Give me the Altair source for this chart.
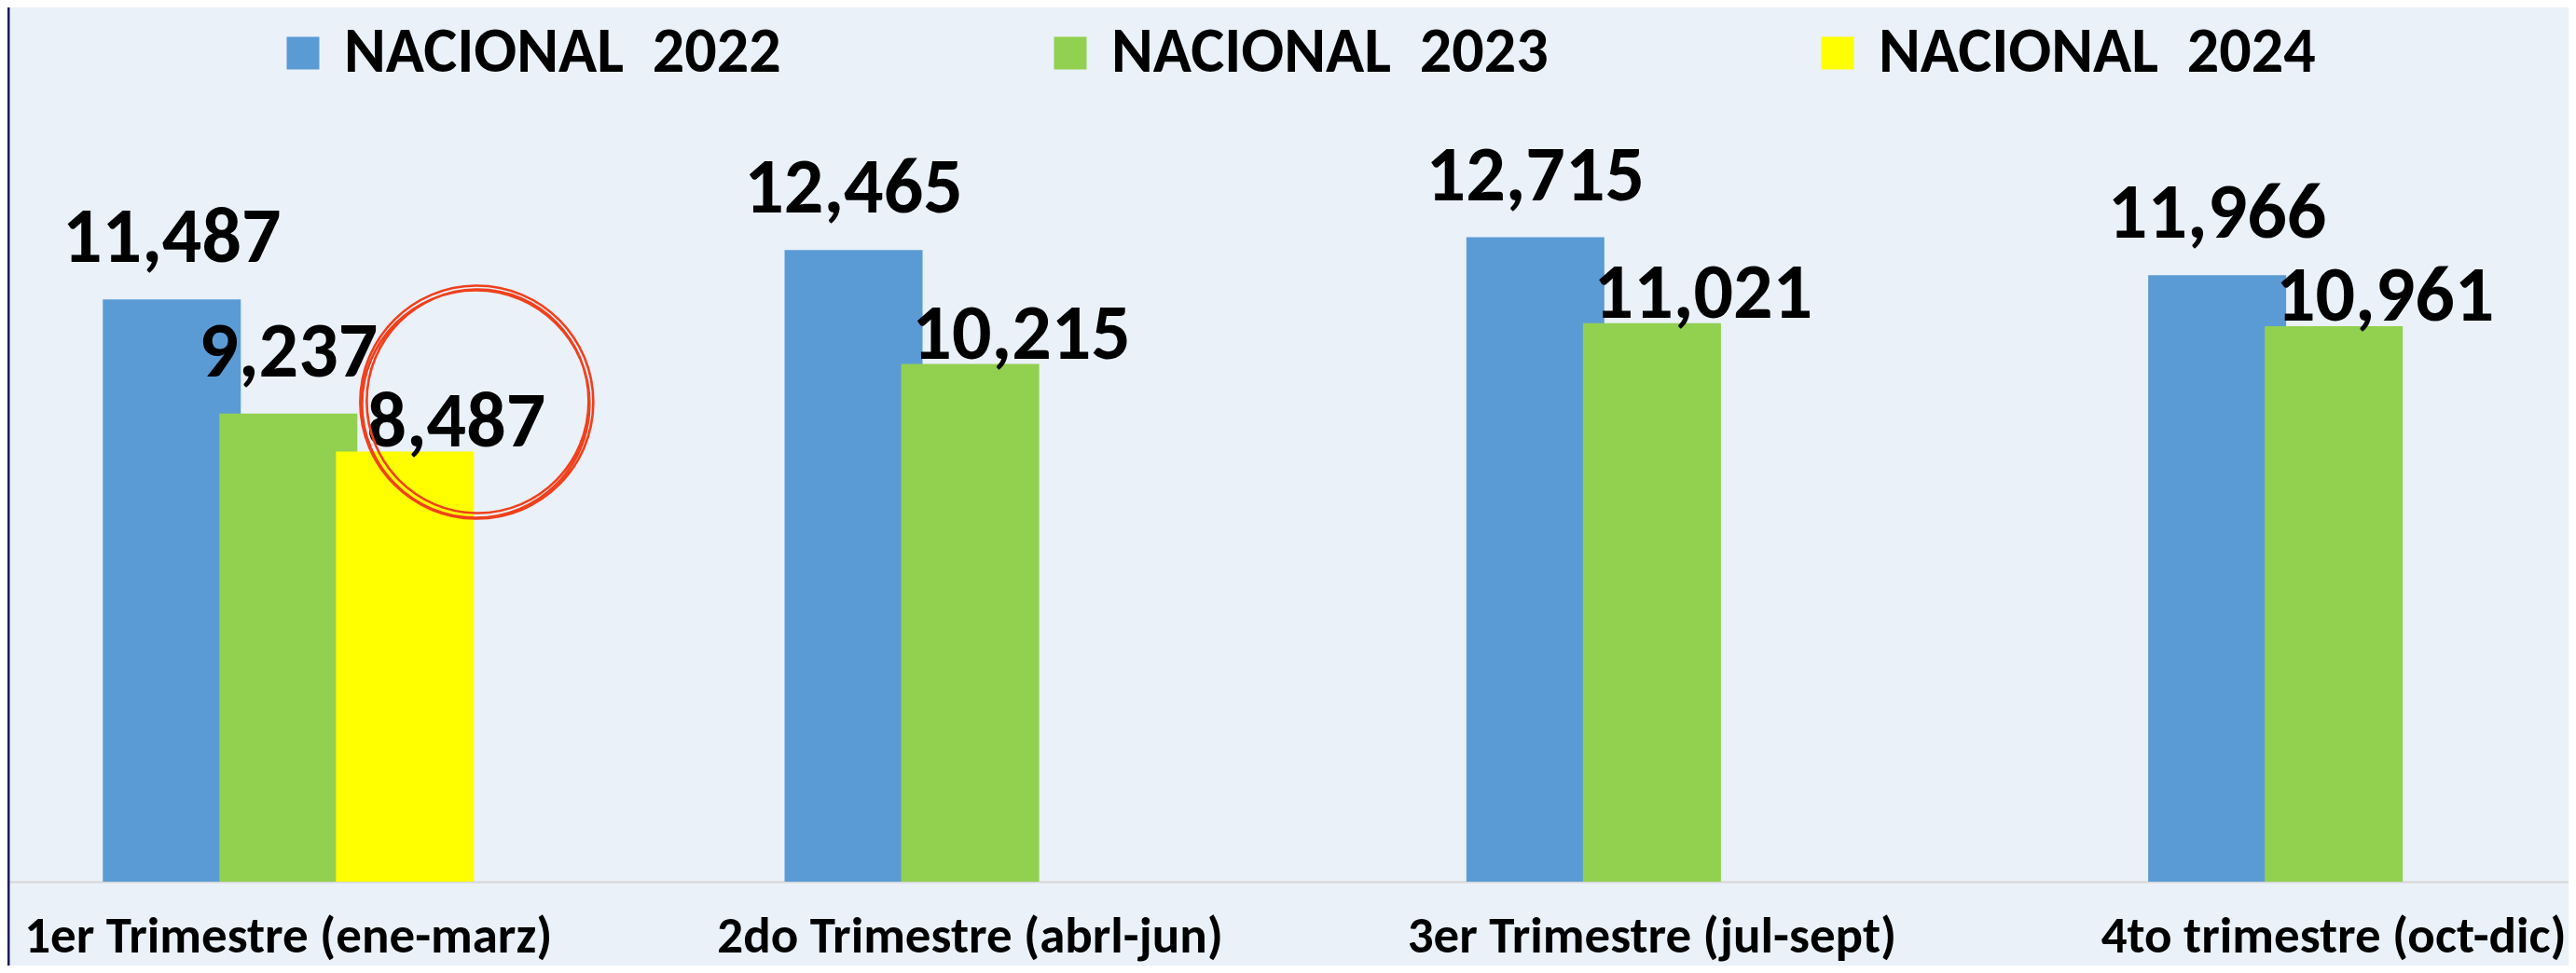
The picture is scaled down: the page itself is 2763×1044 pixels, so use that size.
import altair as alt
import pandas as pd

# ---------------- data ----------------
quarters = [
    "1er Trimestre (ene-marz)",
    "2do Trimestre (abrl-jun)",
    "3er Trimestre (jul-sept)",
    "4to trimestre (oct-dic)",
]
series = ["NACIONAL 2022", "NACIONAL 2023", "NACIONAL 2024"]
values_2022 = [11487, 12465, 12715, 11966]
values_2023 = [9237, 10215, 11021, 10961]
values_2024 = [8487]  # only the first quarter is reported

colors = ["#5B9BD5", "#92D050", "#FFFF00"]

rows = []
for s, vals in zip(series, [values_2022, values_2023, values_2024]):
    for q, v in zip(quarters, vals):
        rows.append({"trimestre": q, "serie": s, "valor": v})
df = pd.DataFrame(rows)

FONT = "Carlito, 'Liberation Sans Narrow', 'Open Sans', sans-serif"
BG = "#EAF1F9"


def ellipse_path(cx, cy, rx, ry):
    k = 0.5523
    return (
        f"M {cx+rx:.4f} {cy:.4f} "
        f"C {cx+rx:.4f} {cy+k*ry:.4f} {cx+k*rx:.4f} {cy+ry:.4f} {cx:.4f} {cy+ry:.4f} "
        f"C {cx-k*rx:.4f} {cy+ry:.4f} {cx-rx:.4f} {cy+k*ry:.4f} {cx-rx:.4f} {cy:.4f} "
        f"C {cx-rx:.4f} {cy-k*ry:.4f} {cx-k*rx:.4f} {cy-ry:.4f} {cx:.4f} {cy-ry:.4f} "
        f"C {cx+k*rx:.4f} {cy-ry:.4f} {cx+rx:.4f} {cy-k*ry:.4f} {cx+rx:.4f} {cy:.4f} Z "
    )


ring_shape = (
    ellipse_path(0.385, -0.265, 0.625, 0.625)
    + ellipse_path(0.38, -0.255, 0.61, 0.61)
    + ellipse_path(0.39, -0.27, 0.595, 0.60)
)

x_enc = alt.X(
    "trimestre:N",
    sort=quarters,
    scale=alt.Scale(paddingInner=0.487, paddingOuter=0.1217, align=0.639),
    axis=alt.Axis(
        title=None,
        labelAngle=0,
        labelFont=FONT,
        labelFontSize=55,
        labelFontWeight="bold",
        labelColor="black",
        labelPadding=32,
        labelLimit=0,
        ticks=False,
        domainColor="#D6D6D6",
        domainWidth=2,
    ),
)
xo_enc = alt.XOffset(
    "serie:N", sort=series, scale=alt.Scale(domain=series, paddingInner=0, paddingOuter=0)
)
y_enc = alt.Y("valor:Q", scale=alt.Scale(domain=[0, 17250], nice=False), axis=None)

base = alt.Chart(df).encode(x=x_enc, xOffset=xo_enc, y=y_enc)

bars = base.mark_bar(width=148).encode(
    color=alt.Color(
        "serie:N",
        sort=series,
        scale=alt.Scale(domain=series, range=colors),
        legend=alt.Legend(
            title=None,
            orient="none",
            legendX=283,
            legendY=15,
            direction="horizontal",
            symbolType="square",
            symbolSize=1225,
            symbolStrokeWidth=0,
            labelFont=FONT,
            labelFontSize=68,
            labelFontWeight="bold",
            labelColor="black",
            labelOffset=10,
            labelLimit=0,
            columnPadding=276,
            padding=0,
            labelExpr="replace(datum.label, ' ', '\u00a0\u00a0')",
        ),
    )
)

text_props = dict(font=FONT, fontSize=84, fontWeight="bold", color="black", baseline="alphabetic")

labels_centered = base.transform_filter(
    "datum.serie == 'NACIONAL 2022' || (datum.serie == 'NACIONAL 2023' && datum.trimestre == '1er Trimestre (ene-marz)')"
).mark_text(dy=-40, **text_props).encode(text=alt.Text("valor:Q", format=",.0f"))

labels_shifted = base.transform_filter(
    "!(datum.serie == 'NACIONAL 2022' || (datum.serie == 'NACIONAL 2023' && datum.trimestre == '1er Trimestre (ene-marz)'))"
).mark_text(dx=55, dy=-6, **text_props).encode(text=alt.Text("valor:Q", format=",.0f"))

circle = base.transform_filter("datum.serie == 'NACIONAL 2024'").mark_point(
    shape=ring_shape, size=160000, filled=False, stroke="#F0401C", strokeWidth=2.6, opacity=1
)

border = alt.Chart(pd.DataFrame({"a": [0]})).mark_rule(
    color="#1C1C5C", strokeWidth=3
).encode(x=alt.value(1), y=alt.value(-20), y2=alt.value(1100))

chart = (
    alt.layer(bars, labels_centered, labels_shifted, circle, border)
    .properties(
        width=2747,
        height=938,
        autosize=alt.AutoSizeParams(type="none"),
        padding={"left": 0, "top": 0, "right": 0, "bottom": 90},
        background=BG,
    )
    .configure_view(stroke=None)
)

chart.save("out.html", embed_options={"renderer": "svg", "actions": False})
